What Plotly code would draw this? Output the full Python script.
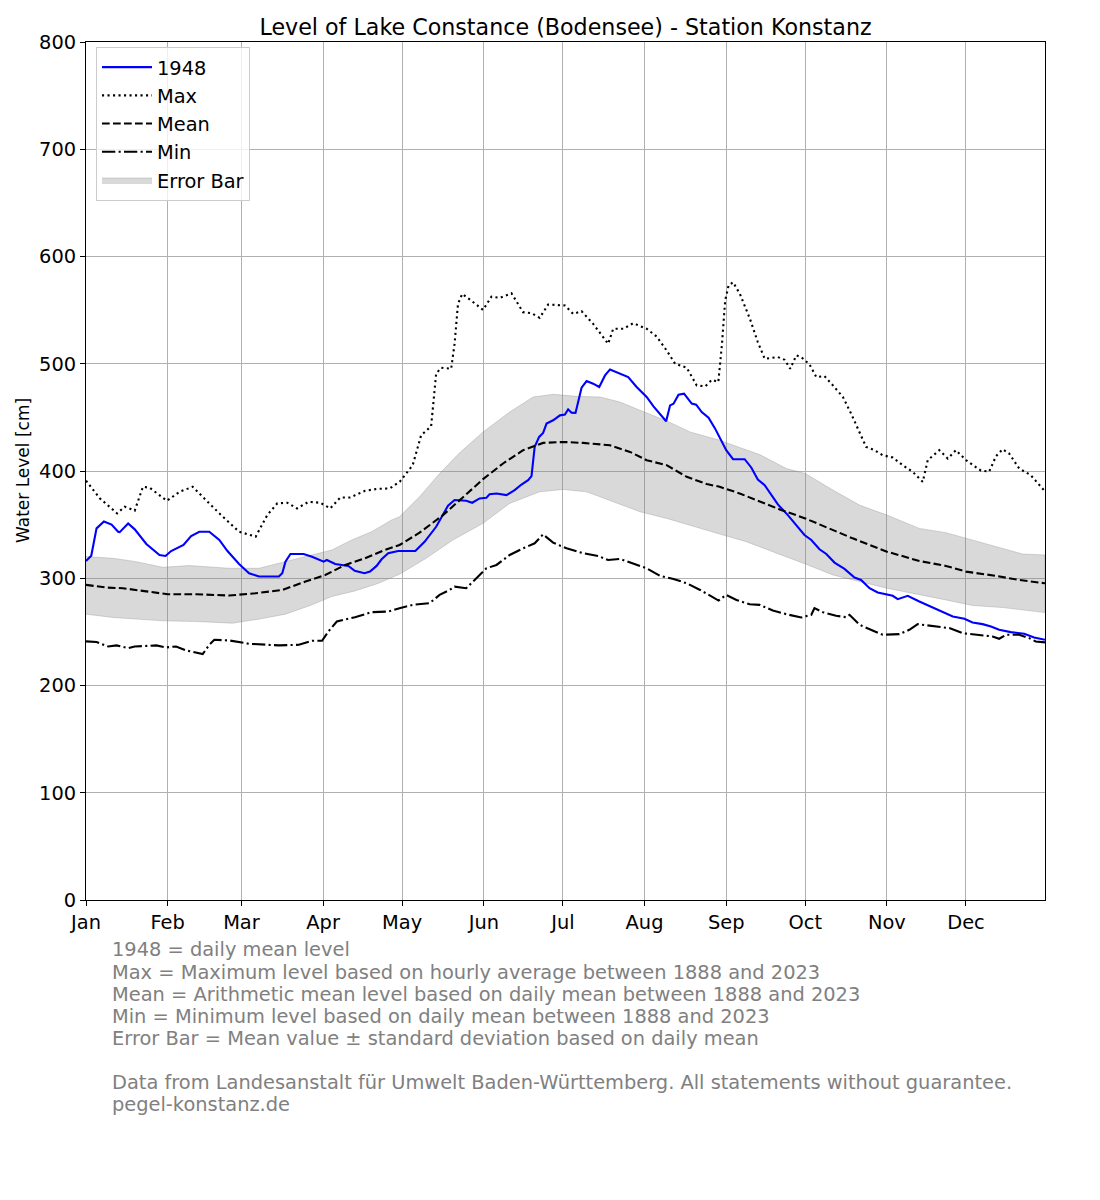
import plotly.graph_objects as go

# ---------------- data (day of year, 0 = Jan 1) ----------------
y1948_days = [0, 2, 4, 6.8, 9.7, 12.2, 12.8, 16, 18.5, 22.9, 27.9, 30.2, 32.3, 34.8, 37, 39.9, 43, 46.8,
              50.6, 53.7, 58.1, 61.9, 65.7, 73.2, 74.5, 75.7, 77.6, 82.6, 85.8, 90.2, 91.4, 94.6, 99.6,
              102, 105.7, 107.8, 110.3, 112.2, 114.7, 118.5, 125, 128.5, 132.9, 137.4, 139.9, 144.3,
              146.6, 149.4, 152, 153.2, 155.8, 159.6, 162.7, 165.3, 167.8, 169.1, 170.3, 172, 173.5,
              174.8, 177.3, 179.9, 181.8, 183, 184.3, 185.8, 188.1, 190, 192.5, 194.8, 197, 198.9,
              202.7, 205.8, 209, 212.8, 215.4, 217.9, 220.2, 221.7, 223, 224.9, 227, 229.9, 231.6,
              233.7, 236.3, 238.8, 240.5, 243, 245.6, 250, 252.5, 255, 257.6, 262.6, 266.4, 268.9,
              272.7, 275.3, 278.4, 281, 284.1, 287.9, 291.7, 294.2, 297.4, 300.5, 303.7, 306.2, 308.1,
              311.9, 316.3, 322.6, 329, 333.4, 336.5, 340.3, 343.5, 346.6, 351, 356.1, 359.9, 364]
y1948_vals = [316, 321, 346.5, 353, 350, 343.4, 343, 351, 345.6, 332, 321.7, 320.8, 325.4, 328, 331, 339.4,
              343.4, 343.4, 335.7, 325.4, 313.3, 304.7, 301.6, 301.6, 304.7, 315.5, 322.6, 322.6, 320,
              315.5, 317, 313.3, 311.5, 307, 304.7, 306.2, 311.5, 317.7, 323.3, 325.4, 325.4, 334, 348,
              367.6, 372.9, 372.2, 370.4, 374.4, 375, 378.4, 379, 377.5, 382.2, 387.4, 391.5, 395.2,
              422.5, 431.8, 435.5, 444.2, 447.3, 451.9, 452.6, 457.5, 454.4, 454.1, 477.7, 483.9, 481.4,
              478.3, 489.1, 494.7, 490.7, 487.6, 478.3, 469, 460.3, 453.5, 446.4, 461.2, 462.8, 471.2,
              472.1, 462.8, 461.9, 455, 449.8, 439.5, 431.8, 419.4, 411, 411, 403.3, 392.1, 386.8, 368.8,
              358.9, 351.2, 340.3, 335.7, 327, 322.6, 314.6, 308.7, 300.6, 298.4, 290.7, 286.7, 285.1,
              283.6, 280.5, 283.6, 278.3, 271.2, 264.3, 262.2, 258.8, 257.2, 255, 252, 249.8, 248.2,
              244.8, 242.6]

max_days = [0, 5.3, 11.8, 14.7, 18.5, 21.6, 24.2, 30.7, 35.5, 40.5, 45.5, 50.6, 58.1, 64.4, 68.8, 72.6,
            76.4, 80.1, 84.5, 88.9, 92.7, 96.5, 100.3, 105.9, 110.9, 115.3, 119.1, 124, 127.2, 131,
            132.9, 134.8, 138.6, 139.9, 141.2, 142.8, 146.2, 150.7, 153.9, 157, 161.5, 165.9, 169.1,
            172.2, 175.4, 179.2, 181.8, 184.9, 188.1, 192.5, 198.2, 200.1, 204, 207.7, 212.8, 216.6,
            220.4, 223.6, 228, 231.8, 235, 237.6, 240, 241.4, 242.6, 243.9, 245.6, 248.2, 252, 255,
            257.6, 262.6, 265.2, 267.3, 269.6, 271.5, 274.6, 277.2, 280.3, 283.5, 287.3, 290.4, 293.6,
            296.1, 299.3, 302.4, 306.2, 310, 313.8, 317.6, 319.5, 323.9, 327.1, 330.2, 334, 339.7,
            342.8, 345.4, 347.9, 350.4, 354.2, 358.6, 364]
max_vals = [391, 374.4, 360.5, 366.7, 363, 385.3, 384.3, 372.2, 380.6, 385.3, 372.9, 360.5, 343.4, 338.8,
            358.9, 369.8, 370.4, 365.1, 371.3, 370.4, 365.1, 375.3, 375.3, 381.6, 383.4, 383.7, 390,
            405.4, 433.3, 441.7, 490.7, 496.3, 495.3, 518.6, 555.8, 565.1, 558.9, 550.2, 562.6, 561.4,
            565.7, 548.1, 547.1, 542.8, 555.2, 554.3, 554.3, 546.5, 549, 537.2, 518.6, 532.6, 532.6,
            537.8, 532.6, 525.4, 512.4, 500, 496.3, 479.8, 478.9, 485.1, 483, 518.6, 558.9, 572.9, 576,
            565.1, 541.9, 520.2, 504.7, 506.2, 503.7, 495.3, 507.8, 506.2, 499.4, 487.6, 488.5, 479.8,
            469, 453.5, 436.4, 422.5, 419.4, 414.7, 412.6, 405.4, 399.2, 389.9, 410.1, 419.4, 411.6,
            419.4, 410.1, 400.3, 399.4, 413.8, 420.3, 416.3, 402.3, 396.1, 381]

mean_days = [0, 7.8, 14, 22.9, 31, 41.8, 54.3, 64.4, 74.5, 83.3, 90.8, 98.4, 105.9, 113.5, 119, 126.6,
             135.5, 143.1, 150.7, 158.3, 165.9, 173.5, 181.1, 188.7, 198.9, 206.5, 212.8, 220.4, 228,
             235.6, 240.5, 248.1, 255.7, 263.3, 273, 281, 291, 304, 316.3, 326.4, 334, 345.4, 354.2, 364]
mean_vals = [293.8, 291.3, 290.7, 287.6, 285.1, 285.1, 283.9, 286, 289.1, 296.9, 303, 312.4, 318.6, 326.4,
             331, 342.5, 358.9, 375.5, 392.4, 407, 419.4, 426.2, 427.1, 426.2, 424, 417.8, 410.1, 405.4,
             394.6, 387.8, 385.3, 379.1, 371.3, 364.2, 355.8, 347.4, 337.2, 324.8, 316.1, 311.5, 306.2,
             302.2, 298.4, 295.3]

upper_days = [0, 10.3, 19, 29.2, 39.2, 54.3, 65.7, 75.7, 85.8, 93.3, 100.9, 108.4, 116, 119, 126.6, 134.2,
              141.8, 150.7, 160.8, 169.7, 177.3, 186.2, 195.1, 202.7, 210.3, 220.4, 229.3, 238.2, 240.5,
              248.1, 255.7, 265.8, 273, 283.5, 293.6, 304, 316.3, 326.4, 336.5, 347.9, 355.5, 364]
upper_vals = [320.2, 318.6, 315.5, 310.2, 311.8, 309.3, 309.3, 315.5, 321.7, 326.4, 335.7, 343.4, 354.3,
              357.4, 376, 397.7, 416.9, 436.4, 455, 469, 471.5, 469.6, 469, 464.3, 456.6, 446.7, 436.4,
              430.2, 428.7, 421.9, 415.3, 402.3, 397.7, 382.2, 368.2, 358.9, 346.5, 342.5, 335.7, 327.9,
              322.6, 321.7]

lower_days = [0, 10.3, 29.2, 41.8, 55.6, 65.7, 75.7, 85.8, 93.3, 102.1, 111, 119, 129.1, 139.3, 150.7,
              160.8, 172.2, 181.1, 190, 200.1, 210.3, 220.4, 230.6, 240.5, 250.6, 260.7, 273, 283.5,
              293.6, 304, 316.3, 326.4, 336.5, 347.9, 364]
lower_vals = [266.5, 263.4, 260.3, 259.7, 258.1, 261.9, 266.5, 275.2, 283, 288.2, 295.3, 303.7, 318.6,
              335.7, 351.2, 369.8, 380.6, 382.8, 380.6, 371.3, 362, 355.8, 348.1, 341.2, 334.1, 324.8,
              313.3, 303.1, 296.9, 290.7, 284.5, 279.8, 274.6, 272.7, 268]

min_days = [0, 4, 8.4, 11.6, 16, 18.5, 26.7, 30.4, 34.2, 38, 44.3, 46.8, 48.7, 54.3, 61.9, 73.2, 80.8,
            85.8, 89.6, 92, 95.2, 102.1, 108.4, 114.7, 119, 124, 130.4, 134.2, 138, 139.9, 144.3, 148.1,
            152, 155.8, 160.8, 165.9, 170.3, 173.5, 177.3, 182.4, 188.7, 194.4, 198.2, 202.7, 207.7,
            212.8, 217.9, 223, 228, 233.1, 240.1, 243, 246.9, 251.9, 255.7, 260.7, 265.8, 271.5, 275.3,
            276.5, 279.7, 284.7, 288.5, 289.8, 293.6, 299.9, 302.4, 308.7, 312.5, 315.7, 320.1, 323.9,
            327.7, 332.7, 339.1, 344.1, 346.6, 349.2, 354.2, 358, 360.5, 364]
min_vals = [241.1, 240.5, 236.4, 237.4, 234.9, 236.4, 237.4, 235.5, 236.4, 232.7, 229.3, 238, 242.6, 242,
            238.9, 237.4, 238, 241.7, 241.7, 250.4, 259.7, 263.7, 268.4, 269, 272.1, 275.2, 276.7, 284.5,
            289.1, 292.2, 290.7, 300, 309.3, 312.4, 321.7, 327.9, 332.6, 340.9, 333.2, 327.9, 323.3,
            320.8, 317, 318, 314, 309.3, 302.2, 299.4, 295.3, 289.1, 279.2, 284.5, 279.8, 275.8, 275.2,
            269.9, 266.5, 263.4, 265.9, 272.1, 268.4, 265, 263.7, 265.9, 256.6, 250.4, 247.3, 247.9,
            251.9, 257.2, 256, 254.4, 253.5, 248.8, 247.3, 245.7, 243.6, 247.3, 247.3, 244.2, 241.1,
            240.2]

month_days = [0, 31, 59, 90, 120, 151, 181, 212, 243, 273, 304, 334]
month_labels = ["Jan", "Feb", "Mar", "Apr", "May", "Jun", "Jul", "Aug", "Sep", "Oct", "Nov", "Dec"]

footer_lines = [
    "1948 = daily mean level",
    "Max = Maximum level based on hourly average between 1888 and 2023",
    "Mean = Arithmetic mean level based on daily mean between 1888 and 2023",
    "Min = Minimum level based on daily mean between 1888 and 2023",
    "Error Bar = Mean value ± standard deviation based on daily mean",
    "",
    "Data from Landesanstalt für Umwelt Baden-Württemberg. All statements without guarantee.",
    "pegel-konstanz.de",
]

# ---------------- figure ----------------
FONT = "DejaVu Sans"
fig = go.Figure()

band_x = upper_days + lower_days[::-1]
band_y = upper_vals + lower_vals[::-1]
fig.add_trace(go.Scatter(x=band_x, y=band_y, fill="toself", mode="lines",
                         fillcolor="rgba(128,128,128,0.3)",
                         line=dict(color="rgba(128,128,128,0.3)", width=1),
                         name="Error Bar", legendrank=5, legendgroup="e", hoverinfo="skip"))
fig.add_trace(go.Scatter(x=y1948_days, y=y1948_vals, mode="lines", name="1948",
                         line=dict(color="#0000ff", width=2.1), legendrank=1, legendgroup="a"))
fig.add_trace(go.Scatter(x=max_days, y=max_vals, mode="lines", name="Max",
                         line=dict(color="black", width=2.1, dash="2.1px,3.4px"), legendrank=2, legendgroup="b"))
fig.add_trace(go.Scatter(x=mean_days, y=mean_vals, mode="lines", name="Mean",
                         line=dict(color="black", width=2.1, dash="7.7px,3.3px"), legendrank=3, legendgroup="c"))
fig.add_trace(go.Scatter(x=min_days, y=min_vals, mode="lines", name="Min",
                         line=dict(color="black", width=2.1, dash="13.3px,3.3px,2.1px,3.3px"),
                         legendrank=4, legendgroup="d"))

# the page body adds an 8 px offset; reference pixel positions are shifted by it
OFF = 8
W, H = 1100, 1200
L, R, T, B = 86 - OFF, 1045 - OFF, 42 - OFF, 900 - OFF
pw, ph = R - L, B - T


def px_x(x):
    return (x - OFF - L) / pw


def px_y(y):
    return (B - (y - OFF)) / ph


fig.update_layout(
    width=W, height=H,
    margin=dict(l=L, r=W - R, t=T, b=H - B, autoexpand=False),
    paper_bgcolor="white", plot_bgcolor="white",
    font=dict(family=FONT, size=19.4, color="black"),
    title=dict(text="Level of Lake Constance (Bodensee) - Station Konstanz",
               x=(565.5 - OFF) / W, xanchor="center", xref="container",
               y=1 - (27 - OFF) / H, yanchor="middle", yref="container",
               font=dict(size=22.2, family=FONT, color="black")),
    showlegend=True,
    legend=dict(x=px_x(96), y=px_y(47), xanchor="left", yanchor="top",
                bgcolor="rgba(255,255,255,0.8)", bordercolor="#cccccc", borderwidth=1,
                font=dict(size=19.4, family=FONT), traceorder="grouped", tracegroupgap=0,
                itemwidth=50),
)
fig.update_xaxes(range=[0, 364], tickmode="array", tickvals=month_days, ticktext=month_labels,
                 showgrid=True, gridcolor="#b0b0b0", gridwidth=1.1, zeroline=False,
                 showline=True, linecolor="black", linewidth=1.1, mirror=True,
                 ticks="outside", ticklen=5, tickwidth=1.1, tickcolor="black",
                 tickfont=dict(size=19.4, family=FONT))
fig.update_yaxes(range=[0, 800], dtick=100, tick0=0,
                 showgrid=True, gridcolor="#b0b0b0", gridwidth=1.1, zeroline=False,
                 showline=True, linecolor="black", linewidth=1.1, mirror=True,
                 ticks="outside", ticklen=5, tickwidth=1.1, tickcolor="black",
                 tickfont=dict(size=19.4, family=FONT))

fig.add_annotation(text="Water Level [cm]", textangle=-90, xref="paper", yref="paper",
                   x=px_x(23), y=0.5, xanchor="center", yanchor="middle", showarrow=False,
                   font=dict(size=17, family=FONT, color="black"))

footer_y = [950, 972, 994, 1016, 1038, 1060, 1082, 1104]
for txt, ypx in zip(footer_lines, footer_y):
    if not txt:
        continue
    fig.add_annotation(text=txt, xref="paper", yref="paper", x=px_x(110), y=px_y(ypx),
                       xanchor="left", yanchor="middle", showarrow=False,
                       font=dict(size=19.4, family=FONT, color="#808080"))

fig.write_html("out.html")
